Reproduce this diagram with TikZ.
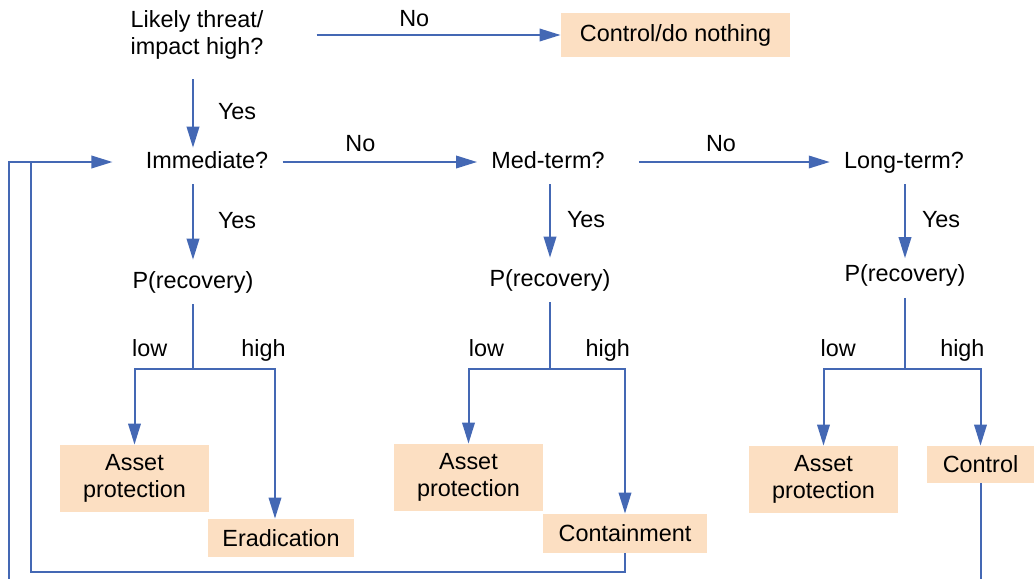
\documentclass[tikz,border=0pt]{standalone}
\usepackage{fontspec}
\setmainfont{Liberation Sans}
\usetikzlibrary{arrows.meta,calc}
\definecolor{flowblue}{RGB}{68,104,180}
\definecolor{peach}{RGB}{252,223,194}
\begin{document}
\begin{tikzpicture}[
x=0.5pt, y=-0.5pt,
every node/.style={font=\fontsize{11.7}{13.5}\selectfont},
question/.style={text height=8.8pt, text depth=2.6pt, inner xsep=7pt, inner ysep=5.25pt},
outcome/.style={fill=peach, inner sep=0pt, align=center},
lbl/.style={inner sep=0pt, text height=8.8pt, text depth=2.6pt},
flow/.style={-{Triangle[length=10.5pt,width=6.25pt]}, draw=flowblue, line width=1pt},
plain/.style={draw=flowblue, line width=1pt},
]
\useasboundingbox (0,0) rectangle (1035,579);
\clip (0,0) rectangle (1035,579);
%nodes
\node[align=center, inner sep=0pt](threat) at (197,35) {Likely threat/\\impact high?};
\node[outcome, minimum width=114.5pt, minimum height=22pt](nothing) at (675.5,35) {Control/do nothing};
\node[question](imm) at (207,162) {Immediate?};
\node[question](med) at (548,162) {Med-term?};
\node[question](long) at (904,162) {Long-term?};
\node[question](rec1) at (193,282) {P(recovery)};
\node[question](rec2) at (550,280) {P(recovery)};
\node[question](rec3) at (905,275.5) {P(recovery)};
\node[outcome, minimum width=74.5pt, minimum height=33.5pt](asset1) at (134.5,478.5) {Asset\\protection};
\node[outcome, minimum width=73pt, minimum height=19pt](erad) at (281,538) {Eradication};
\node[outcome, minimum width=74.5pt, minimum height=33.5pt](asset2) at (468.5,477.5) {Asset\\protection};
\node[outcome, minimum width=82pt, minimum height=19.5pt](contain) at (625,533.5) {Containment};
\node[outcome, minimum width=74.5pt, minimum height=33.5pt](asset3) at (823.5,479.5) {Asset\\protection};
\node[outcome, minimum width=53.5pt, minimum height=18.5pt](control) at (980.5,464.5) {Control};
\coordinate (split1) at (193,369);
\coordinate (split2) at (550,369);
\coordinate (split3) at (905,369);
\coordinate (back1) at (31,162);
\coordinate (back2) at (9,162);
%connections
\draw[flow] ($(threat.east)+(53,0)$) -- node[lbl, pos=0.4, above=1pt]{No} (nothing.west);
\draw[flow] ($(threat.south -| rec1)+(0,19.5)$) -- node[lbl, midway, right=12pt]{Yes} ($(imm.north -| rec1)+(0,8)$);
\draw[flow] (imm.east) -- node[lbl, pos=0.4, above=2pt]{No} (med.west);
\draw[flow] ($(med.east)+(20,0)$) -- node[lbl, pos=0.43, above=2pt]{No} (long.west);
\draw[flow] (imm.south -| rec1) -- node[lbl, midway, right=12pt]{Yes} (rec1.north);
\draw[flow] (med.south -| rec2) -- node[lbl, midway, right=8pt]{Yes} (rec2.north);
\draw[flow] (long.south -| rec3) -- node[lbl, midway, right=8pt]{Yes} ($(rec3.north)+(0,5)$);
\draw[plain] (rec1) -- (split1);
\draw[flow] (split1) -| node[lbl, pos=0.37, above=3pt]{low} (asset1.north);
\draw[flow] (split1) -| node[lbl, pos=0.43, above=3pt]{high} ($(erad.north)+(-6,0)$);
\draw[plain] (rec2) -- (split2);
\draw[flow] (split2) -| node[lbl, pos=0.39, above=3pt]{low} (asset2.north);
\draw[flow] (split2) -| node[lbl, pos=0.385, above=3pt]{high} (contain.north);
\draw[plain] (rec3) -- (split3);
\draw[flow] (split3) -| node[lbl, pos=0.41, above=3pt]{low} (asset3.north);
\draw[flow] (split3) -| node[lbl, pos=0.38, above=3pt]{high} (control.north);
\draw[plain] (contain.south) -- ++(0,19) -| (back1);
\draw[flow] (control.south) -- ++(0,110) -| (back2) -- ($(imm.west)+(-19,0)$);
\end{tikzpicture}
\end{document}
